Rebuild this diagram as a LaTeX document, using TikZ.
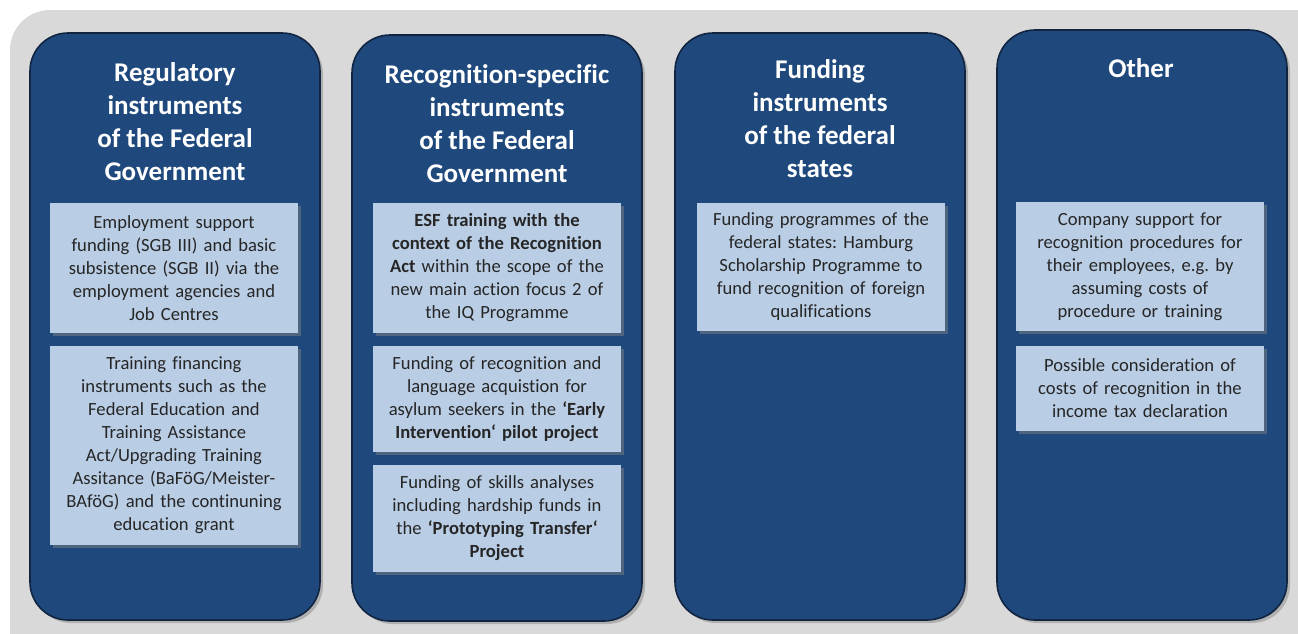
\documentclass[tikz,border=0pt]{standalone}
\usepackage{fontspec}
\setmainfont{Carlito}[Ligatures=NoCommon]
\usetikzlibrary{shadows}
\frenchspacing
\definecolor{bggray}{RGB}{217,217,217}
\definecolor{colblue}{RGB}{31,73,125}
\definecolor{coledge}{RGB}{17,37,66}
\definecolor{boxblue}{RGB}{185,205,229}
\tikzset{
  column/.style={draw=coledge,line width=1.6pt,fill=colblue,rounded corners=38pt,
    drop shadow={opacity=0.45,shadow xshift=3pt,shadow yshift=-3pt}},
  coltitle/.style={anchor=north,text=white,align=center,
    font=\fontsize{27}{33}\selectfont\bfseries},
  infobox/.style={fill=boxblue,text=black!85,align=center,text width=240pt,
    inner sep=4pt,font=\fontsize{18.6}{23}\selectfont,
    drop shadow={opacity=0.5,shadow xshift=3pt,shadow yshift=-3pt}}
}
\begin{document}
\begin{tikzpicture}[x=1pt,y=-1pt]
\useasboundingbox (0,0) rectangle (1298,633);
\clip (0,0) rectangle (1298,633);
% grey backdrop, runs off the right and bottom edge
\fill[bggray,rounded corners=40pt] (10,10) rectangle (1340,680);
% four columns
\draw[column] (30,33) rectangle (320,620);
\draw[column] (352,35) rectangle (642,621);
\draw[column] (675,33) rectangle (965,620);
\draw[column] (997,30) rectangle (1287,620);
% column titles
\node[coltitle] (regtitle) at (175,59) {Regulatory\\instruments\\of the Federal\\Government};
\node[coltitle] (rectitle) at (497,61) {Recognition-specific\\instruments\\of the Federal\\Government};
\node[coltitle] (fundtitle) at (820,56) {Funding\\instruments\\of the federal\\states};
\node[coltitle] (othertitle) at (1141,55) {Other};
% regulatory instruments
\node[infobox,minimum height=130pt] (reg1) at (174,268)
  {Employment support\\funding (SGB III) and basic\\subsistence (SGB II) via the\\employment agencies and\\Job Centres};
\node[infobox,minimum height=199pt] (reg2) at (174,445.5)
  {Training financing\\instruments such as the\\Federal Education and\\Training Assistance\\Act/Upgrading Training\\Assitance (BaFöG/Meister-\\BAföG) and the continuning\\education grant};
% recognition-specific instruments
\node[infobox,minimum height=130pt] (rec1) at (497,268)
  {\textbf{ESF training with the}\\\textbf{context of the Recognition}\\\textbf{Act} within the scope of the\\new main action focus 2 of\\the IQ Programme};
\node[infobox,minimum height=106pt] (rec2) at (497,399)
  {Funding of recognition and\\language acquistion for\\asylum seekers in the \textbf{‘Early}\\\textbf{Intervention‘ pilot project}};
\node[infobox,minimum height=107pt] (rec3) at (497,518.5)
  {Funding of skills analyses\\including hardship funds in\\the \textbf{‘Prototyping Transfer‘}\\\textbf{Project}};
% funding instruments of the states
\node[infobox,minimum height=128pt] (fund1) at (821,267)
  {Funding programmes of the\\federal states: Hamburg\\Scholarship Programme to\\fund recognition of foreign\\qualifications};
% other
\node[infobox,minimum height=129pt] (other1) at (1140,266.5)
  {Company support for\\recognition procedures for\\their employees, e.g. by\\assuming costs of\\procedure or training};
\node[infobox,minimum height=85pt] (other2) at (1140,388.5)
  {Possible consideration of\\costs of recognition in the\\income tax declaration};
\end{tikzpicture}
\end{document}
